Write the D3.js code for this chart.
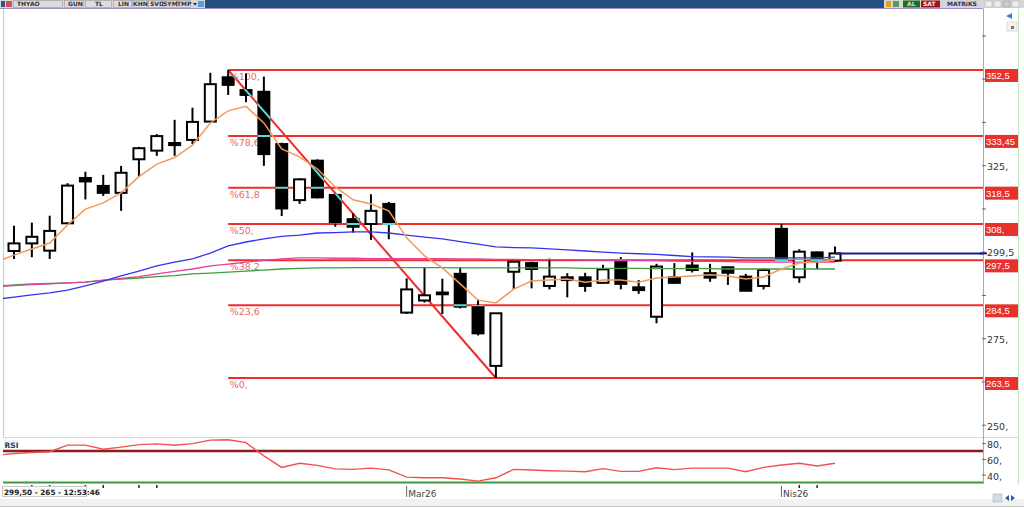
<!DOCTYPE html>
<html><head><meta charset="utf-8">
<script src="https://cdn.jsdelivr.net/npm/d3@7"></script>
<style>body{margin:0;background:#fff;overflow:hidden}svg{display:block;font-family:"DejaVu Sans",Verdana,sans-serif}</style>
</head><body><svg id="c" width="1024" height="508"></svg>
<script>
// ---------- DATA ----------
const openP  = [300.2,302.4,300.3,308.2,321.3,319.0,317.0,326.7,329.2,331.4,332.3,337.6,350.4,346.7,346.2,331.1,314.9,326.3,316.4,309.4,308.0,313.8,282.4,285.9,288.2,293.6,284.3,267.0,294.2,296.7,290.1,292.6,292.6,291.0,297.6,289.7,281.2,292.6,296.0,293.8,295.5,292.8,290.1,306.6,292.6,299.8,297.4];
const highP  = [307.5,308.4,310.4,319.8,323.1,322.2,324.8,330.3,334.0,338.1,341.6,351.7,352.5,351.5,350.6,331.5,321.2,326.7,316.4,311.1,316.6,314.4,292.3,295.5,292.2,295.5,286.2,282.2,297.3,297.1,298.0,293.8,293.9,296.2,298.4,291.8,296.5,296.7,299.8,296.5,295.7,293.6,295.2,308.0,300.7,300.0,301.5];
const lowP   = [297.9,298.4,297.9,308.0,315.1,316.1,311.8,321.7,327.7,327.7,331.1,337.4,345.3,343.2,324.8,310.3,313.8,315.4,307.2,305.5,303.4,303.6,282.0,285.3,282.0,283.6,275.8,263.5,289.2,289.4,289.1,286.8,288.4,291.0,289.1,287.8,279.3,290.7,294.0,291.3,290.4,288.7,289.1,297.6,291.0,295.0,297.1];
const closeP = [302.4,304.3,306.0,319.1,320.3,317.0,322.8,329.9,333.4,330.8,337.5,348.4,348.2,345.3,328.2,312.5,320.9,315.7,308.4,307.2,311.8,308.0,289.1,287.4,287.7,284.1,276.4,282.2,297.1,295.0,292.8,291.8,290.1,294.9,290.7,288.9,295.7,291.0,294.7,292.5,293.9,288.7,294.7,297.6,300.0,297.4,299.5];
// moving averages, first value belongs to the bar before the first visible candle
const maFast  = [297.0,299.0,300.8,302.5,307.7,312.3,314.1,317.0,321.7,325.3,327.2,330.8,337.2,340.7,342.0,337.2,329.7,327.4,323.9,318.7,315.0,313.8,311.8,304.0,298.8,295.3,290.7,286.0,285.2,289.2,291.5,291.8,292.1,291.2,291.8,291.8,291.2,292.4,292.7,293.0,293.3,293.0,292.1,292.7,295.0,296.7,297.0,297.6];
const maBlue  = [286.2,286.9,287.5,288.1,288.9,290.1,291.5,293.0,294.4,295.9,297.0,297.9,299.6,301.7,302.8,303.7,304.4,304.8,305.4,305.5,305.7,305.7,305.4,304.8,304.2,303.7,302.9,302.2,301.4,301.2,301.1,300.8,300.5,300.2,299.9,299.6,299.4,299.2,298.9,298.6,298.5,298.4,298.2,298.2,298.2,298.2,298.2,298.4];
const maPink  = [289.8,290.2,290.5,290.7,291.0,291.2,291.7,292.3,292.8,293.6,294.3,295.0,295.9,296.4,297.0,297.5,297.9,298.2,298.2,298.1,298.1,298.0,298.0,298.0,298.0,298.0,297.9,297.9,297.8,297.8,297.7,297.7,297.7,297.6,297.6,297.5,297.5,297.4,297.3,297.2,297.2,297.1,297.0,297.0,297.0,297.0,297.0,297.0];
const maGreen = [290.1,290.4,290.7,290.8,291.0,291.2,291.8,292.1,292.4,292.8,293.1,293.6,293.8,294.1,294.4,294.7,295.0,295.2,295.3,295.3,295.4,295.4,295.4,295.4,295.4,295.4,295.3,295.3,295.3,295.3,295.3,295.3,295.3,295.2,295.2,295.2,295.2,295.1,295.1,295.1,295.1,295.0,295.0,295.0,295.0,295.0,295.0,295.0];
const greenShortStart = 41;
const greenShort = [297.8,297.8,297.8,297.8,297.8,297.8];
const rsiVals = [64.6,66.8,68.1,69.1,77.4,77.4,72.3,74.9,78.1,79.1,77.4,79.4,83.8,84.2,80.6,63.8,49.2,54.4,51.8,47.3,46.7,48.3,46.0,36.8,36.0,36.0,34.5,31.7,36.0,46.7,45.8,45.0,44.5,43.7,47.6,44.1,44.1,48.8,46.3,48.3,48.3,48.3,43.7,49.2,52.2,54.4,50.9,54.4];
const fibLevels = [352.5,333.45,318.5,308,297.5,284.5,263.5];
const fibPct    = ["%100,","%78,6","%61,8","%50,","%38,2","%23,6","%0,"];
const fibAxisText = ["352,5","333,45","318,5","308,","297,5","284,5","263,5"];
const fibFromIdx = 12, fibToIdx = 27;
const priceLabelVals = [325,275,250];
const priceLabelText = ["325,","275,","250,"];
const priceMinorTicks = [250,262.5,275,287.5,300,312.5,325,337.5,350,362.5];
const lastPrice = 299.5, lastPriceText = "299,5";
const rsiLabelVals = [80,60,40];
const rsiLabelText = ["80,","60,","40,"];
const rsiUpper = 70, rsiLower = 30;
const dateLabelIdx = [22,43];
const dateLabelText = ["Mar26","Nis26"];
const dateMinorIdx = [1,2,4,5,7,8,44,45];
const infoText = "299,50 - 265 - 12:53:46";

// ---------- LAYOUT ----------
const svg = d3.select("#c");
const W=1024, H=508, PL=3, PR=983, PT=9, PB=437, RT=439, RB=484;
const x = d3.scaleLinear().domain([0,46]).range([14,835]);
const y = d3.scaleLinear().domain([263.5,352.5]).range([378,70]);
const ry = d3.scaleLinear().domain([30,70]).range([482.5,451]);
const idx = d3.range(openP.length);
const bw = 11;

svg.append("rect").attr("width",W).attr("height",H).attr("fill","#fff");
const defs = svg.append("defs");
defs.append("clipPath").attr("id","cm").append("rect").attr("x",PL).attr("y",PT).attr("width",PR-PL).attr("height",PB-PT);
defs.append("clipPath").attr("id","cr").append("rect").attr("x",PL).attr("y",RT).attr("width",PR-PL).attr("height",RB-RT);
const blackIdx = idx.filter(i=>closeP[i]<openP[i]);
defs.append("clipPath").attr("id","cb").selectAll("rect").data(blackIdx).join("rect")
  .attr("x",i=>x(i)-bw/2-1).attr("width",bw+2)
  .attr("y",i=>y(Math.max(openP[i],closeP[i]))-1)
  .attr("height",i=>Math.max(Math.abs(y(openP[i])-y(closeP[i])),1.5)+2);

// ---------- TOOLBAR ----------
const tb = svg.append("g").attr("font-size",6).attr("font-weight","bold");
tb.append("rect").attr("x",0).attr("y",0).attr("width",W).attr("height",8).attr("fill","#22507f");
tb.append("rect").attr("x",0).attr("y",0).attr("width",205).attr("height",8).attr("fill","#d6d6d6");
tb.append("rect").attr("x",1).attr("y",1).attr("width",4).attr("height",6).attr("fill","#3a4f8a");
tb.append("rect").attr("x",6).attr("y",1).attr("width",6).attr("height",6).attr("fill","#d05050");
const btns=[[13,63,"THYAO",17],[64,84,"GUN",68],[85,112,"TL",95],[113,132,"LIN",118],[132,148,"KHN",133],[148,163,"SVD",150],[163,177,"SYM",163],[177,191,"TMP",177]];
btns.forEach(b=>{
  tb.append("rect").attr("x",b[0]+0.5).attr("y",0.5).attr("width",b[1]-b[0]-1).attr("height",7).attr("fill","#dcdcdc").attr("stroke","#9a9a9a").attr("stroke-width",0.6);
  tb.append("text").attr("x",b[3]).attr("y",6.2).attr("fill","#333").text(b[2]);
});
tb.append("path").attr("d","M193,3 L197,3 L195,5.5Z").attr("fill","#223");
tb.append("rect").attr("x",198).attr("y",1).attr("width",6).attr("height",6).attr("fill","#4aa3df");
tb.append("rect").attr("x",884).attr("y",0).attr("width",140).attr("height",8).attr("fill","#d6d6d6");
tb.append("rect").attr("x",886).attr("y",1).attr("width",5).attr("height",6).attr("fill","#e0a020");
tb.append("rect").attr("x",893).attr("y",1).attr("width",6).attr("height",6).attr("fill","#5a9a5a");
tb.append("rect").attr("x",903).attr("y",0.5).attr("width",17).attr("height",7).attr("fill","#1f6e1f");
tb.append("text").attr("x",907).attr("y",6.2).attr("fill","#ddd").text("AL");
tb.append("rect").attr("x",921).attr("y",0.5).attr("width",19).attr("height",7).attr("fill","#a80f0f");
tb.append("text").attr("x",923).attr("y",6.2).attr("fill","#eee").text("SAT");
tb.append("rect").attr("x",941).attr("y",0.5).attr("width",38).attr("height",7).attr("fill","#d2d2e0");
tb.append("text").attr("x",947).attr("y",6.2).attr("fill","#334").text("MATRiKS");
tb.append("rect").attr("x",985).attr("y",1).attr("width",7).attr("height",6).attr("fill","#eee").attr("stroke","#aaa").attr("stroke-width",0.5);
tb.append("rect").attr("x",994).attr("y",1).attr("width",7).attr("height",6).attr("fill","#eee").attr("stroke","#aaa").attr("stroke-width",0.5);
tb.append("rect").attr("x",1003).attr("y",1).attr("width",7).attr("height",6).attr("fill","#ccc").attr("stroke","#888").attr("stroke-width",0.5);
tb.append("rect").attr("x",1012).attr("y",1).attr("width",7).attr("height",6).attr("fill","#eee").attr("stroke","#aaa").attr("stroke-width",0.5);
svg.append("line").attr("x1",0).attr("x2",PR).attr("y1",8.5).attr("y2",8.5).attr("stroke","#a58fc4").attr("stroke-width",1);
svg.append("path").attr("d","M1006,16 L1012,13 L1012,19Z").attr("fill","#3b7fd0");
svg.append("rect").attr("x",1007).attr("y",22).attr("width",10).attr("height",9).attr("fill","#f2f2f2").attr("stroke","#c8c8c8").attr("stroke-width",0.6);
svg.append("rect").attr("x",1011).attr("y",26).attr("width",3).attr("height",3).attr("fill","#777");

// ---------- FRAMES ----------
svg.append("line").attr("x1",3.5).attr("x2",3.5).attr("y1",PT).attr("y2",PB).attr("stroke","#b7dfb0").attr("stroke-width",1.2);
svg.append("line").attr("x1",PL).attr("x2",1019).attr("y1",437.5).attr("y2",437.5).attr("stroke","#c6e6c0").attr("stroke-width",1.2);
svg.append("line").attr("x1",1018.5).attr("x2",1018.5).attr("y1",PT).attr("y2",RB).attr("stroke","#c6e6c0").attr("stroke-width",1.2);
svg.append("line").attr("x1",983.5).attr("x2",983.5).attr("y1",8.5).attr("y2",RB).attr("stroke","#a8a8a8").attr("stroke-width",1);

// ---------- MAIN PLOT ----------
const gm = svg.append("g").attr("clip-path","url(#cm)");
// fibonacci lines
gm.selectAll(".fib").data(fibLevels).join("line")
  .attr("x1",x(fibFromIdx)).attr("x2",PR).attr("y1",d=>y(d)).attr("y2",d=>y(d))
  .attr("stroke","#ee2c2c").attr("stroke-width",2);
gm.append("line").attr("x1",x(fibFromIdx)).attr("y1",y(highP[fibFromIdx]))
  .attr("x2",x(fibToIdx)).attr("y2",y(lowP[fibToIdx])).attr("stroke","#ee2c2c").attr("stroke-width",2);
gm.selectAll(".fibt").data(fibLevels).join("text")
  .attr("x",x(fibFromIdx)+1.5).attr("y",d=>y(d)+10).attr("font-size",9.5).attr("fill","#f06868")
  .text((d,i)=>fibPct[i]);

// candles
gm.selectAll(".wick").data(idx).join("line")
  .attr("x1",i=>x(i)).attr("x2",i=>x(i)).attr("y1",i=>y(highP[i])).attr("y2",i=>y(lowP[i]))
  .attr("stroke","#000").attr("stroke-width",2);
gm.selectAll(".body").data(idx).join("rect")
  .attr("x",i=>x(i)-bw/2).attr("width",bw)
  .attr("y",i=>y(Math.max(openP[i],closeP[i])))
  .attr("height",i=>Math.max(Math.abs(y(openP[i])-y(closeP[i])),1.5))
  .attr("fill",i=>closeP[i]>=openP[i]?"#fff":"#000")
  .attr("stroke","#000").attr("stroke-width",2);

// cyan where fib lines cross black bodies
const gc = gm.append("g").attr("clip-path","url(#cb)");
gc.selectAll("line.c").data(fibLevels).join("line")
  .attr("x1",x(fibFromIdx)).attr("x2",PR).attr("y1",d=>y(d)).attr("y2",d=>y(d))
  .attr("stroke","#5fd8d8").attr("stroke-width",2);
gc.append("line").attr("x1",x(fibFromIdx)).attr("y1",y(highP[fibFromIdx]))
  .attr("x2",x(fibToIdx)).attr("y2",y(lowP[fibToIdx])).attr("stroke","#5fd8d8").attr("stroke-width",2);

// moving averages
const lineMA = d3.line().x((d,k)=>x(k-1)).y(d=>y(d));
gm.append("path").attr("d",lineMA(maGreen)).attr("fill","none").attr("stroke","#3f9f3f").attr("stroke-width",1.3);
gm.append("path").attr("d",lineMA(maPink)).attr("fill","none").attr("stroke","#e4409a").attr("stroke-width",1.3);
gm.append("path").attr("d",lineMA(maBlue)).attr("fill","none").attr("stroke","#3333ee").attr("stroke-width",1.3);
gm.append("path").attr("d",d3.line().x((d,k)=>x(k+greenShortStart)).y(d=>y(d))(greenShort)).attr("fill","none").attr("stroke","#55c055").attr("stroke-width",1.3);
gm.append("path").attr("d",lineMA(maFast)).attr("fill","none").attr("stroke","#f29a5a").attr("stroke-width",1.5);
// last price line
gm.append("line").attr("x1",x(46)).attr("x2",PR).attr("y1",y(lastPrice)).attr("y2",y(lastPrice)).attr("stroke","#1c1c80").attr("stroke-width",2);

// ---------- PRICE AXIS ----------
const ax = svg.append("g").attr("transform",`translate(986,0)`)
  .call(d3.axisLeft(y).tickValues(priceMinorTicks).tickSize(4).tickFormat(""));
ax.select(".domain").remove();
ax.selectAll(".tick line").attr("stroke","#666");
svg.selectAll(".plab").data(priceLabelVals).join("text")
  .attr("x",987).attr("y",d=>y(d)+5).attr("font-size",9.5).attr("fill","#333").text((d,i)=>priceLabelText[i]);
svg.selectAll(".fbox").data(fibLevels).join("rect")
  .attr("x",985).attr("y",d=>y(d)-1).attr("width",33).attr("height",13).attr("fill","#e8302c");
svg.selectAll(".fboxt").data(fibLevels).join("text")
  .attr("x",986).attr("y",d=>y(d)+9).attr("font-size",9.5).attr("font-family","Liberation Sans, Arial, sans-serif").attr("fill","#fff").text((d,i)=>fibAxisText[i]);
svg.append("line").attr("x1",980).attr("x2",987).attr("y1",y(lastPrice)).attr("y2",y(lastPrice)).attr("stroke","#1c1c80").attr("stroke-width",2);
svg.append("text").attr("x",987).attr("y",y(lastPrice)+3).attr("font-size",9.5).attr("fill","#333").text(lastPriceText);

// ---------- RSI PANEL ----------
const gr = svg.append("g").attr("clip-path","url(#cr)");
gr.append("line").attr("x1",PL).attr("x2",PR).attr("y1",ry(rsiUpper)).attr("y2",ry(rsiUpper)).attr("stroke","#8a1d1d").attr("stroke-width",2.5);
gr.append("line").attr("x1",PL).attr("x2",PR).attr("y1",ry(rsiLower)).attr("y2",ry(rsiLower)).attr("stroke","#3c9a3c").attr("stroke-width",2);
gr.append("path").attr("d",d3.line().x((d,k)=>x(k-1)).y(d=>ry(d))(rsiVals)).attr("fill","none").attr("stroke","#f25050").attr("stroke-width",1.4);
svg.append("rect").attr("x",4).attr("y",440).attr("width",14).attr("height",8).attr("fill","#eef2f4");
svg.append("text").attr("x",4.5).attr("y",447.5).attr("font-size",7.5).attr("font-weight","bold").attr("fill","#2a3f5f").text("RSI");
const rax = svg.append("g").attr("transform","translate(986,0)")
  .call(d3.axisLeft(ry).tickValues(rsiLabelVals).tickSize(4).tickFormat(""));
rax.select(".domain").remove();
rax.selectAll(".tick line").attr("stroke","#666");
svg.selectAll(".rlab").data(rsiLabelVals).join("text")
  .attr("x",987).attr("y",d=>ry(d)+5).attr("font-size",9.5).attr("fill","#333").text((d,i)=>rsiLabelText[i]);

// ---------- DATE AXIS ----------
svg.selectAll(".dmin").data(dateMinorIdx).join("line")
  .attr("x1",i=>x(i)).attr("x2",i=>x(i)).attr("y1",485).attr("y2",488).attr("stroke","#222").attr("stroke-width",1.5);
svg.selectAll(".dmaj").data(dateLabelIdx).join("line")
  .attr("x1",i=>x(i)).attr("x2",i=>x(i)).attr("y1",486).attr("y2",497).attr("stroke","#666").attr("stroke-width",1);
svg.selectAll(".dlab").data(dateLabelIdx).join("text")
  .attr("x",i=>x(i)+1.5).attr("y",i=>497).attr("font-size",9).attr("fill","#444").text((d,k)=>dateLabelText[k]);
svg.append("rect").attr("x",2.5).attr("y",486.5).attr("width",84).attr("height",10).attr("fill","#fafafa").attr("stroke","#bbb").attr("stroke-width",0.8);
svg.append("text").attr("x",4).attr("y",494.5).attr("font-size",7.3).attr("font-weight","bold").attr("fill","#222").text(infoText);
svg.append("rect").attr("x",0).attr("y",499).attr("width",W).attr("height",7).attr("fill","#f1f1f1");
svg.append("line").attr("x1",0).attr("x2",W).attr("y1",506.5).attr("y2",506.5).attr("stroke","#c4c4c4");
svg.append("rect").attr("x",993).attr("y",494).attr("width",9).attr("height",8).attr("fill","#d0dbe8").attr("stroke","#9ab").attr("stroke-width",0.5);
svg.append("path").attr("d","M1005,498 L1009,495 L1009,501Z M1015,498 L1011,495 L1011,501Z").attr("fill","#2b5fa8");
</script></body></html>
